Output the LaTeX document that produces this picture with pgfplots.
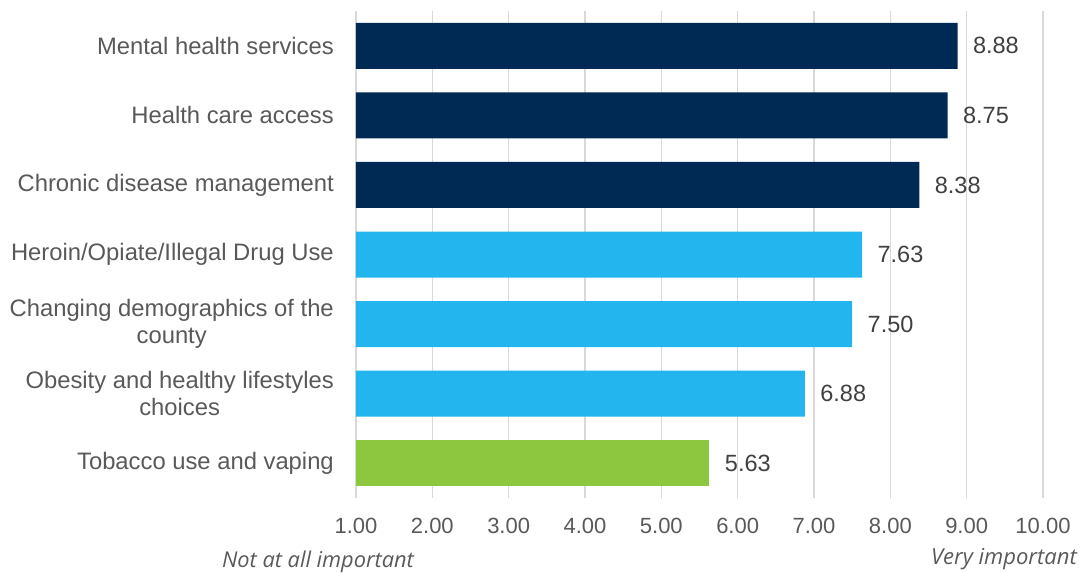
\documentclass[border=0pt]{standalone}
\usepackage{fontspec}
\setmainfont{Liberation Sans}
\newfontfamily\noteFont{Open Sans}
\usepackage{pgfplots}
\pgfplotsset{compat=1.18}
\definecolor{navy}{RGB}{0,41,84}
\definecolor{skyb}{RGB}{34,181,238}
\definecolor{leaf}{RGB}{141,198,63}
\definecolor{gridc}{RGB}{217,217,217}
\definecolor{lbl}{RGB}{89,89,89}
\definecolor{val}{RGB}{64,64,64}
\begin{document}
\begin{tikzpicture}
\begin{axis}[
  scale only axis, width=687bp, height=487bp,
  xmin=1, xmax=10, ymin=-0.5, ymax=6.5, y dir=reverse,
  xbar, bar width=46bp,
  axis line style={draw=none},
  xtick={1,...,10}, ytick={0,...,6},
  major tick length=0pt,
  xmajorgrids, major grid style={gridc, line width=1.6bp},
  yticklabels={Mental health services, Health care access, Chronic disease management, Heroin/Opiate/Illegal Drug Use, {Changing demographics of the\\county}, {Obesity and healthy lifestyles\\choices}, Tobacco use and vaping},
  yticklabel style={align=center, inner sep=0pt, xshift=-22bp, text=lbl,
    font=\fontsize{23.8bp}{27bp}\selectfont},
  xticklabel style={inner sep=0pt, yshift=-20bp, text=lbl,
    font=\fontsize{22bp}{26bp}\selectfont,
    /pgf/number format/.cd, fixed, fixed zerofill, precision=2, assume math mode=true},
  nodes near coords={\pgfmathprintnumber[fixed,fixed zerofill,precision=2]{\pgfplotspointmeta}},
  nodes near coords style={text=val, xshift=12bp, font=\fontsize{23.5bp}{27bp}\selectfont,
    /pgf/number format/assume math mode=true},
  clip=false,
]
\addplot[fill=navy, draw=none, bar shift=0pt] coordinates {(8.88,0) (8.75,1) (8.38,2)};
\addplot[fill=skyb, draw=none, bar shift=0pt] coordinates {(7.63,3) (7.50,4) (6.88,5)};
\addplot[fill=leaf, draw=none, bar shift=0pt] coordinates {(5.63,6)};
\end{axis}
\node[anchor=base, inner sep=0pt, text=lbl, font=\noteFont\itshape\fontsize{21.8bp}{24bp}\selectfont] at (-38bp,-69bp) {Not at all important};
\node[anchor=base east, inner sep=0pt, text=lbl, font=\noteFont\itshape\fontsize{22bp}{24bp}\selectfont] at (721bp,-66bp) {Very important};
\pgfresetboundingbox
\path[use as bounding box] (-356bp,-75bp) rectangle (723bp,498bp);
\end{tikzpicture}
\end{document}
